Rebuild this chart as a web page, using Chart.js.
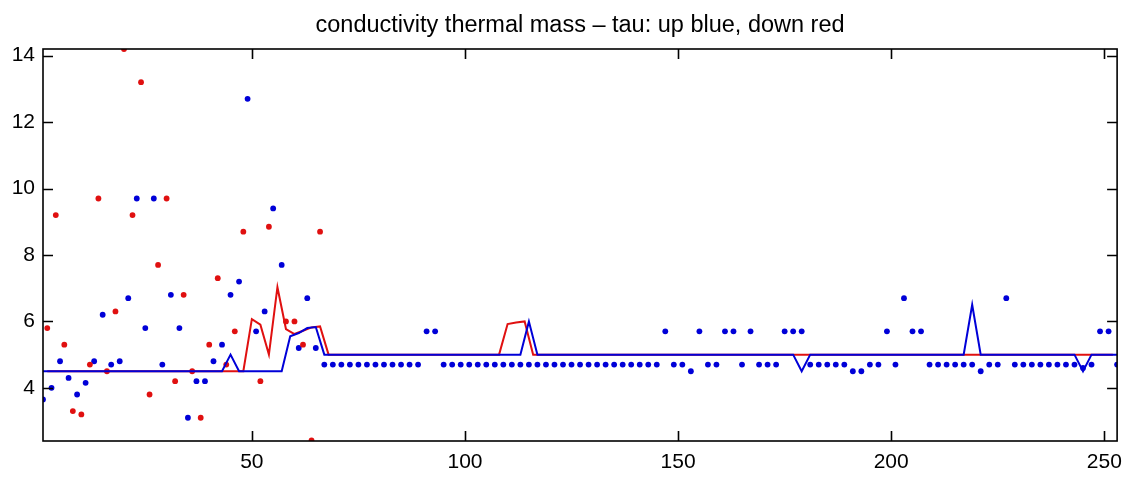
<!DOCTYPE html>
<html>
<head>
<meta charset="utf-8">
<title>conductivity thermal mass</title>
<script src="https://cdn.jsdelivr.net/npm/chart.js@4.4.1/dist/chart.umd.min.js"></script>
<style>
    html, body { margin: 0; padding: 0; background: #fff; }
    #wrap { width: 1131px; height: 478px; }
</style>
</head>
<body>
<div id="wrap"><canvas id="tau_chart" width="1131" height="478"></canvas></div>
<script>
// up casts sit on odd sample numbers, down casts on even ones
var upFirst = 1, downFirst = 2, sampleStep = 2;
var xTicks = [50, 100, 150, 200, 250];
var yTicks = [4, 6, 8, 10, 12, 14];

// tau per up cast (samples 1, 3, ... 253)
var upTau = [
    3.65, 4.0, 4.8, 4.3, 3.8, 4.15, 4.8, 6.2, 4.7, 4.8, 6.7, 9.7, 5.8, 9.7, 4.7, 6.8, 5.8,
    3.1, 4.2, 4.2, 4.8, 5.3, 6.8, 7.2, 12.7, 5.7, 6.3, 9.4, 7.7, null, 5.2, 6.7, 5.2,
    4.7, 4.7, 4.7, 4.7, 4.7, 4.7, 4.7, 4.7, 4.7, 4.7, 4.7, 4.7,
    5.7, 5.7,
    4.7, 4.7, 4.7, 4.7, 4.7, 4.7, 4.7, 4.7, 4.7, 4.7, 4.7, 4.7, 4.7,
    4.7, 4.7, 4.7, 4.7, 4.7, 4.7, 4.7, 4.7, 4.7, 4.7, 4.7, 4.7, 4.7,
    5.7, 4.7, 4.7, 4.5, 5.7, 4.7, 4.7, 5.7, 5.7, 4.7, 5.7, 4.7, 4.7, 4.7, 5.7, 5.7, 5.7,
    4.7, 4.7, 4.7, 4.7, 4.7,
    4.5, 4.5, 4.7, 4.7, 5.7, 4.7, 6.7, 5.7, 5.7,
    4.7, 4.7, 4.7, 4.7, 4.7, 4.7,
    4.5, 4.7, 4.7, 6.7,
    4.7, 4.7, 4.7, 4.7, 4.7, 4.7, 4.7, 4.7,
    4.6, 4.7, 5.7, 5.7, 4.7
];

// tau per down cast (samples 2, 4, ... 66)
var downTau = [
    5.8, 9.2, 5.3, 3.3, 3.2, 4.7, 9.7, 4.5, 6.3, 14.2, 9.2, 13.2, 3.8, 7.7, 9.7, 4.2, 6.8,
    4.5, 3.1, 5.3, 7.3, 4.7, 5.7, 8.7, null, 4.2, 8.85, null, 6.0, 6.0, 5.3, 2.42, 8.7
];

// filtered tau, up casts
var upLine = [
    4.5, 4.5, 4.5, 4.5, 4.5, 4.5, 4.5, 4.5, 4.5, 4.5, 4.5, 4.5, 4.5, 4.5, 4.5, 4.5, 4.5,
    4.5, 4.5, 4.5, 4.5, 4.5, 5.0, 4.5, 4.5, 4.5, 4.5, 4.5, 4.5, 5.55, 5.65, 5.8, 5.83,
    5.0, 5.0, 5.0, 5.0, 5.0, 5.0, 5.0, 5.0, 5.0, 5.0, 5.0, 5.0,
    5.0, 5.0, 5.0, 5.0, 5.0, 5.0, 5.0, 5.0, 5.0, 5.0, 5.0, 5.0,
    6.0,
    5.0, 5.0, 5.0, 5.0, 5.0, 5.0, 5.0, 5.0, 5.0, 5.0, 5.0, 5.0, 5.0, 5.0, 5.0, 5.0,
    5.0, 5.0, 5.0, 5.0, 5.0, 5.0, 5.0, 5.0, 5.0, 5.0, 5.0, 5.0, 5.0, 5.0, 5.0,
    4.5,
    5.0, 5.0, 5.0, 5.0, 5.0, 5.0, 5.0, 5.0, 5.0, 5.0, 5.0, 5.0, 5.0, 5.0, 5.0, 5.0,
    5.0, 5.0, 5.0,
    6.5,
    5.0, 5.0, 5.0, 5.0, 5.0, 5.0, 5.0, 5.0, 5.0, 5.0, 5.0, 5.0,
    4.5,
    5.0, 5.0, 5.0, 5.0
];

// filtered tau, down casts (samples 2 ... 252)
var downLine = [
    4.5, 4.5, 4.5, 4.5, 4.5, 4.5, 4.5, 4.5, 4.5, 4.5, 4.5, 4.5,
    4.5, 4.5, 4.5, 4.5, 4.5, 4.5, 4.5, 4.5, 4.5, 4.5, 4.5, 4.5,
    6.07, 5.9, 5.0, 7.03, 5.77, 5.62, 5.72, 5.82, 5.85,
    5.0, 5.0, 5.0, 5.0, 5.0, 5.0, 5.0, 5.0, 5.0, 5.0, 5.0,
    5.0, 5.0, 5.0, 5.0, 5.0, 5.0, 5.0, 5.0, 5.0, 5.0,
    5.92, 5.97, 6.0,
    5.0, 5.0, 5.0, 5.0, 5.0, 5.0, 5.0, 5.0, 5.0, 5.0, 5.0, 5.0, 5.0, 5.0, 5.0, 5.0, 5.0,
    5.0, 5.0, 5.0, 5.0, 5.0, 5.0, 5.0, 5.0, 5.0, 5.0, 5.0, 5.0, 5.0, 5.0, 5.0, 5.0, 5.0,
    5.0, 5.0, 5.0, 5.0, 5.0, 5.0, 5.0, 5.0, 5.0, 5.0, 5.0, 5.0, 5.0, 5.0, 5.0, 5.0, 5.0,
    5.0, 5.0, 5.0, 5.0, 5.0, 5.0, 5.0, 5.0, 5.0, 5.0, 5.0, 5.0, 5.0, 5.0, 5.0, 5.0, 5.0,
    5.0
];

var BLUE = '#0000d8';
var RED = '#e01010';

function toPoints(vals, first) {
    return vals.map(function (v, i) {
        return { x: first + i * sampleStep, y: v };
    });
}

// matlab style box with inward ticks on all four sides
var boxTicks = {
    id: 'boxTicks',
    afterDatasetsDraw: function (chart) {
        var ctx = chart.ctx, a = chart.chartArea;
        var xs = chart.scales.x, ys = chart.scales.y, len = 10;
        ctx.save();
        ctx.strokeStyle = '#000';
        ctx.lineWidth = 1.6;
        ctx.strokeRect(a.left, a.top, a.right - a.left, a.bottom - a.top);
        ctx.beginPath();
        xTicks.forEach(function (v) {
            var px = Math.round(xs.getPixelForValue(v)) + 0.5;
            ctx.moveTo(px, a.bottom); ctx.lineTo(px, a.bottom - len);
            ctx.moveTo(px, a.top); ctx.lineTo(px, a.top + len);
        });
        yTicks.forEach(function (v) {
            var py = Math.round(ys.getPixelForValue(v)) + 0.5;
            ctx.moveTo(a.left, py); ctx.lineTo(a.left + len, py);
            ctx.moveTo(a.right, py); ctx.lineTo(a.right - len, py);
        });
        ctx.stroke();
        ctx.restore();
    }
};

var font = { family: '"Liberation Sans", Arial, sans-serif', size: 21 };

new Chart(document.getElementById('tau_chart').getContext('2d'), {
    type: 'scatter',
    data: {
        datasets: [{
            label: 'up filtered',
            data: toPoints(upLine, upFirst),
            showLine: true,
            borderColor: BLUE,
            borderWidth: 2,
            pointRadius: 0,
            order: 0
        }, {
            label: 'down filtered',
            data: toPoints(downLine, downFirst),
            showLine: true,
            borderColor: RED,
            borderWidth: 2,
            pointRadius: 0,
            order: 1
        }, {
            label: 'down',
            data: toPoints(downTau, downFirst),
            backgroundColor: RED,
            pointBorderWidth: 0,
            pointRadius: 2.9,
            order: 2
        }, {
            label: 'up',
            data: toPoints(upTau, upFirst),
            backgroundColor: BLUE,
            pointBorderWidth: 0,
            pointRadius: 2.9,
            order: 3
        }]
    },
    options: {
        responsive: false,
        animation: false,
        layout: { autoPadding: false, padding: { left: 0, right: 13, top: 0, bottom: 0 } },
        plugins: {
            legend: { display: false },
            tooltip: { enabled: false },
            title: {
                display: true,
                fullSize: false,
                text: 'conductivity thermal mass \u2013 tau: up blue, down red',
                color: '#000',
                font: { family: font.family, size: 23.5, weight: 'normal' },
                padding: { top: 11, bottom: 9.8 }
            }
        },
        scales: {
            x: {
                type: 'linear',
                min: 1,
                max: 253,
                afterBuildTicks: function (s) { s.ticks = xTicks.map(function (v) { return { value: v }; }); },
                afterFit: function (s) { s.height = 37; },
                grid: { display: false, drawTicks: false },
                border: { display: false },
                ticks: { color: '#000', font: font, padding: 9, maxRotation: 0, autoSkip: false }
            },
            y: {
                type: 'linear',
                min: 2.4,
                max: 14.2,
                afterBuildTicks: function (s) { s.ticks = yTicks.map(function (v) { return { value: v }; }); },
                afterFit: function (s) { s.width = 43; },
                grid: { display: false, drawTicks: false },
                border: { display: false },
                ticks: { color: '#000', font: font, padding: 8, autoSkip: false }
            }
        }
    },
    plugins: [boxTicks]
});
</script>
</body>
</html>
